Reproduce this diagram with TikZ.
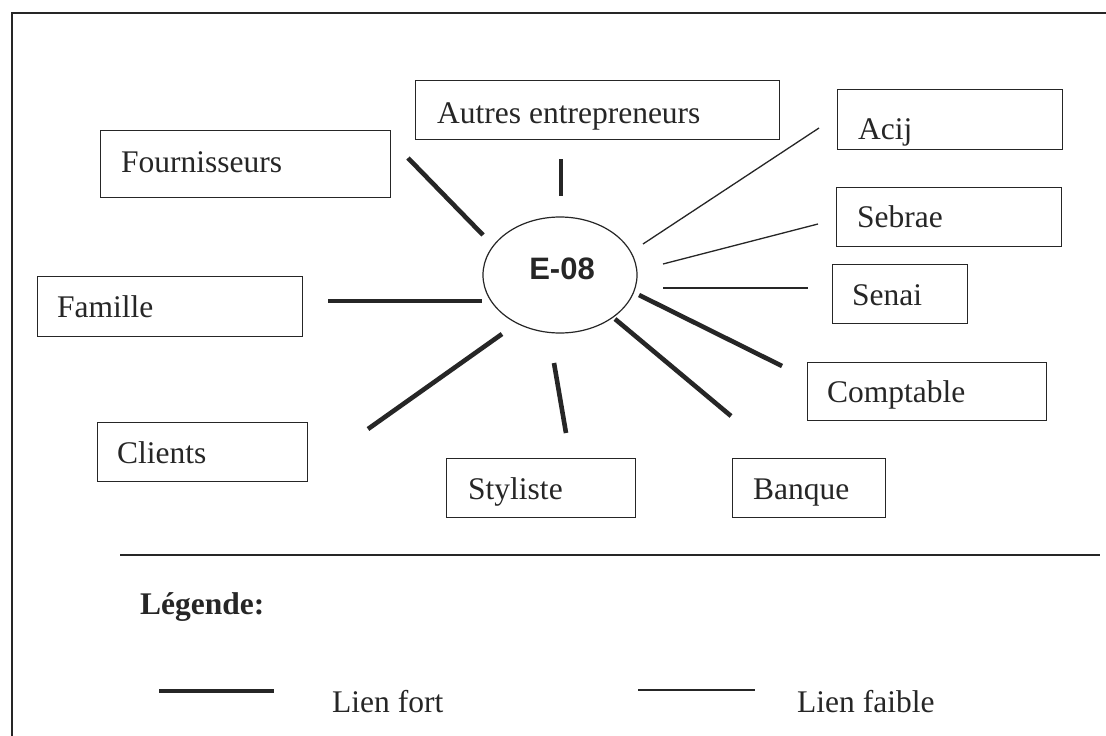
\documentclass[tikz,border=0pt]{standalone}
\usepackage{fontspec}
\setmainfont{Liberation Serif}
\newfontfamily\arialf{Liberation Sans}
\usetikzlibrary{shapes.geometric}
\begin{document}
\begin{tikzpicture}[x=1pt,y=-1pt,
  box/.style={draw=black!85, line width=1.3pt, rectangle, inner sep=0pt, anchor=north west},
  lbl/.style={anchor=base west, inner sep=0pt, font=\fontsize{31.5}{36}\selectfont, text=black!85},
  strong/.style={line width=4.6pt, draw=black!85},
  weak/.style={line width=1.3pt, draw=black!85}]
\useasboundingbox (0,0) rectangle (1106,736);
\fill[white] (0,0) rectangle (1106,736);

% outer frame (top and left edges)
\draw[line width=1.3pt, black!85] (1106,13) -- (12,13) -- (12,736);

% actor boxes
\node[box, minimum width=290pt, minimum height=67pt] (fourn)   at (100,130) {};
\node[box, minimum width=364pt, minimum height=59pt] (autres)  at (415,80)  {};
\node[box, minimum width=225pt, minimum height=60pt] (acij)    at (837,89)  {};
\node[box, minimum width=225pt, minimum height=59pt] (sebrae)  at (836,187) {};
\node[box, minimum width=135pt, minimum height=59pt] (senai)   at (832,264) {};
\node[box, minimum width=239pt, minimum height=58pt] (compt)   at (807,362) {};
\node[box, minimum width=265pt, minimum height=60pt] (famille) at (37,276)  {};
\node[box, minimum width=210pt, minimum height=59pt] (clients) at (97,422)  {};
\node[box, minimum width=189pt, minimum height=59pt] (styl)    at (446,458) {};
\node[box, minimum width=153pt, minimum height=59pt] (banque)  at (732,458) {};

\node[lbl] (t-fourn)   at (121,172) {Fournisseurs};
\node[lbl] (t-autres)  at (437,123) {Autres entrepreneurs};
\node[lbl] (t-acij)    at (858,139) {Acij};
\node[lbl] (t-sebrae)  at (857,227) {Sebrae};
\node[lbl] (t-senai)   at (852,305) {Senai};
\node[lbl] (t-compt)   at (827,402) {Comptable};
\node[lbl] (t-famille) at (57,317)  {Famille};
\node[lbl] (t-clients) at (117,463) {Clients};
\node[lbl] (t-styl)    at (468,499) {Styliste};
\node[lbl] (t-banque)  at (753,499) {Banque};

% central entrepreneur
\node[ellipse, draw=black!85, line width=1.2pt, minimum width=154pt, minimum height=116pt, inner sep=0pt] (e08) at (560,275) {};
\node[anchor=base, inner sep=0pt, font=\arialf\bfseries\fontsize{31}{36}\selectfont, text=black!85] (t-e08) at (562,279) {E-08};

% link end points
\coordinate (fourn-a)   at (408,158); \coordinate (fourn-b)   at (483,235);
\coordinate (autres-a)  at (561,159); \coordinate (autres-b)  at (561,196);
\coordinate (famille-a) at (328,301); \coordinate (famille-b) at (482,301);
\coordinate (clients-a) at (368,429); \coordinate (clients-b) at (502,334);
\coordinate (styl-a)    at (554,363); \coordinate (styl-b)    at (566,433);
\coordinate (banque-a)  at (615,319); \coordinate (banque-b)  at (731,416);
\coordinate (compt-a)   at (639,295); \coordinate (compt-b)   at (782,366);
\coordinate (acij-a)    at (643,244); \coordinate (acij-b)    at (819,128);
\coordinate (sebrae-a)  at (663,264); \coordinate (sebrae-b)  at (818,224);
\coordinate (senai-a)   at (663,288); \coordinate (senai-b)   at (808,288);

% strong links
\draw[strong] (fourn-a) -- (fourn-b);
\draw[strong] (autres-a) -- (autres-b);
\draw[strong] (famille-a) -- (famille-b);
\draw[strong] (clients-a) -- (clients-b);
\draw[strong] (styl-a) -- (styl-b);
\draw[strong] (banque-a) -- (banque-b);
\draw[strong] (compt-a) -- (compt-b);
% weak links
\draw[weak] (acij-a) -- (acij-b);
\draw[weak] (sebrae-a) -- (sebrae-b);
\draw[weak] (senai-a) -- (senai-b);

% legend
\coordinate (sep-a) at (120,555); \coordinate (sep-b) at (1100,555);
\draw[line width=1.5pt, black!85] (sep-a) -- (sep-b);
\node[lbl, font=\bfseries\fontsize{31.5}{36}\selectfont] (leg) at (140,614) {Légende:};
\coordinate (lf-a) at (159,691); \coordinate (lf-b) at (274,691);
\coordinate (lw-a) at (638,690); \coordinate (lw-b) at (755,690);
\draw[strong] (lf-a) -- (lf-b);
\node[lbl] (t-fort) at (332,712) {Lien fort};
\draw[weak] (lw-a) -- (lw-b);
\node[lbl] (t-faible) at (797,712) {Lien faible};
\end{tikzpicture}
\end{document}
